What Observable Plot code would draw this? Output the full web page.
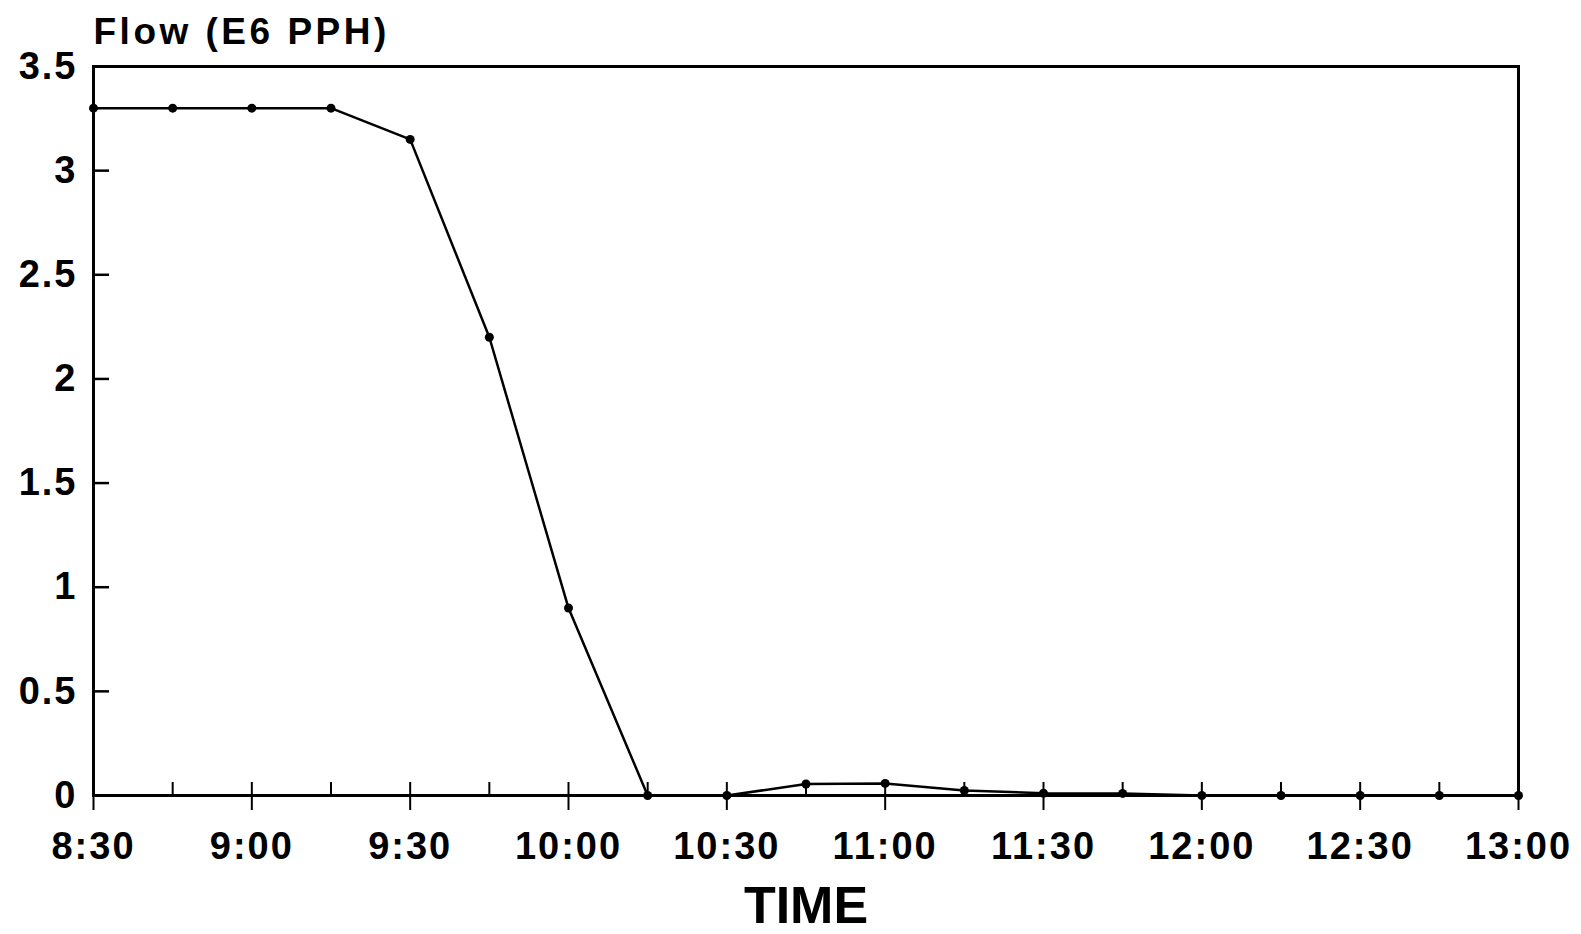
<!DOCTYPE html>
<html>
<head>
<meta charset="utf-8">
<script src="https://cdn.jsdelivr.net/npm/d3@7"></script>
<script src="https://cdn.jsdelivr.net/npm/@observablehq/plot@0.6"></script>
<style>
  html, body { margin: 0; padding: 0; background: #fff; }
  #chart svg { display: block; }
  #chart svg text { letter-spacing: 2px; }
</style>
</head>
<body>
<div id="chart"></div>
<script>
// ---- data ----
const times = ["8:30","8:45","9:00","9:15","9:30","9:45","10:00","10:15","10:30","10:45",
               "11:00","11:15","11:30","11:45","12:00","12:15","12:30","12:45","13:00"];
const flow  = [3.3, 3.3, 3.3, 3.3, 3.15, 2.2, 0.9, 0, 0, 0.055,
               0.058, 0.024, 0.011, 0.01, 0, 0, 0, 0, 0];
const majorTickLabels = ["8:30","9:00","9:30","10:00","10:30","11:00","11:30","12:00","12:30","13:00"];
const minorTickLabels = ["8:45","9:15","9:45","10:15","10:45","11:15","11:45","12:15","12:45"];
const yTickValues = [0, 0.5, 1, 1.5, 2, 2.5, 3, 3.5];
const titleText = "Flow (E6 PPH)";
const xTitle = "TIME";

// ---- helpers ----
const toMin = s => { const [h, m] = s.split(":").map(Number); return h * 60 + m; };
const fmt = v => `${Math.floor(v / 60)}:${String(v % 60).padStart(2, "0")}`;
const rows = times.map((t, i) => ({t: toMin(t), v: flow[i]}));
const major = majorTickLabels.map(toMin);
const minor = minorTickLabels.map(toMin);
const xDomain = [toMin(times[0]), toMin(times[times.length - 1])];

const W = 1581, H = 934, ML = 93, MR = 63, MT = 66, MB = 139;
const frameW = W - ML - MR;
const inwardTick = 16;

const font = "'Liberation Sans', Arial, Helvetica, sans-serif";

const svg = Plot.plot({
  width: W,
  height: H,
  marginLeft: ML,
  marginRight: MR,
  marginTop: MT,
  marginBottom: MB,
  style: {fontFamily: font, background: "white", color: "black"},
  x: {type: "linear", domain: xDomain},
  y: {domain: [0, 3.5]},
  marks: [
    Plot.frame({stroke: "black", strokeWidth: 3}),
    // inward y ticks from the left frame edge
    Plot.ruleY(yTickValues, {y: d => d, insetLeft: 0, insetRight: frameW - inwardTick, stroke: "black", strokeWidth: 2.5}),
    // major x ticks (above and below baseline)
    Plot.ruleX(major, {x: d => d, y1: 0, y2: 0, insetTop: -13, insetBottom: -15, stroke: "black", strokeWidth: 2}),
    // minor x ticks (above baseline only)
    Plot.ruleX(minor, {x: d => d, y1: 0, y2: 0, insetTop: -13, insetBottom: 0, stroke: "black", strokeWidth: 2}),
    Plot.axisY(yTickValues, {tickSize: 0, tickPadding: 16, fontSize: 38, fontWeight: "bold", label: null, tickFormat: d => String(d)}),
    Plot.axisX(major, {tickSize: 0, tickPadding: 37, fontSize: 38, fontWeight: "bold", label: null, tickFormat: fmt}),
    Plot.line(rows, {x: "t", y: "v", stroke: "black", strokeWidth: 2.5}),
    Plot.dot(rows, {x: "t", y: "v", r: 4.5, fill: "black", stroke: null}),
    Plot.text([titleText], {frameAnchor: "top-left", textAnchor: "start", lineAnchor: "bottom", dy: -23, fontSize: 37, fontWeight: "bold", fill: "black"}),
    Plot.text([xTitle], {frameAnchor: "bottom", textAnchor: "middle", lineAnchor: "bottom", dy: 127, fontSize: 52, fontWeight: "bold", fill: "black"})
  ]
});

d3.select(svg).selectAll("text").each(function () {
  if (this.textContent === xTitle) this.style.letterSpacing = "0px";
  if (this.textContent === titleText) this.style.letterSpacing = "3.5px";
});

document.getElementById("chart").appendChild(svg);
</script>
</body>
</html>
